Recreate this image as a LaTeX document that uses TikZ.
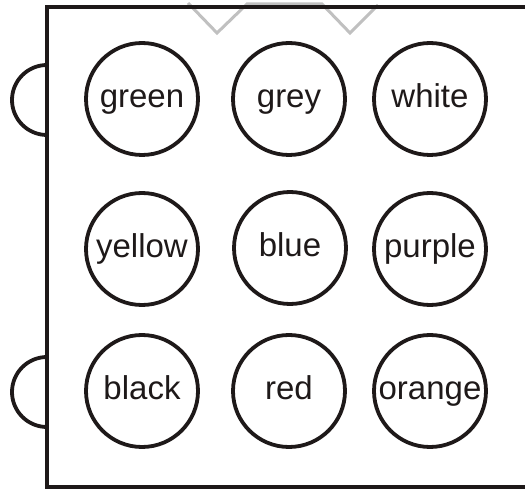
\documentclass[tikz,border=0pt]{standalone}
\usepackage{fontspec}
\setmainfont{Liberation Sans}
\definecolor{notchgray}{RGB}{192,192,192}
\definecolor{inkblack}{RGB}{30,25,25}
\begin{document}
\begin{tikzpicture}[x=1pt,y=-1pt,
  ball/.style={circle,draw=inkblack,line width=3.8pt,minimum size=112pt,inner sep=0pt,
    font=\fontsize{33}{33}\selectfont,text=inkblack,text height=23pt,text depth=6pt},
  frame/.style={draw=inkblack,line width=3.8pt,line join=miter},
  notch/.style={draw=notchgray,line width=3pt,line join=miter}]
\useasboundingbox (0,0) rectangle (525,489);
% grey notch line along the top
\coordinate (n1) at (188,3);
\coordinate (n2) at (217,33);
\coordinate (n3) at (247,4);
\coordinate (n4) at (322,4);
\coordinate (n5) at (350,33);
\coordinate (n6) at (378,5);
\draw[notch] (n1) -- (n2) -- (n3) -- (n4) -- (n5) -- (n6);
% frame
\coordinate (tr) at (525,7);
\coordinate (tl) at (47,7);
\coordinate (bl) at (47,487);
\coordinate (br) at (525,487);
\draw[frame] (tr) -- (tl) -- (bl) -- (br);
% side tabs
\coordinate (t1) at (47,65);
\coordinate (t2) at (47,357);
\draw[frame] (t1) arc[start angle=270,end angle=90,radius=35];
\draw[frame] (t2) arc[start angle=270,end angle=90,radius=35];
% balls
\node[ball] (green)  at (142,99)  {green};
\node[ball] (grey)   at (289,99)  {grey};
\node[ball] (white)  at (430,99)  {white};
\node[ball] (yellow) at (142,249) {yellow};
\node[ball] (blue)   at (290,248) {blue};
\node[ball] (purple) at (430,249) {purple};
\node[ball] (black)  at (142,391) {black};
\node[ball] (red)    at (289,391) {red};
\node[ball] (orange) at (430,391) {orange};
\end{tikzpicture}
\end{document}
